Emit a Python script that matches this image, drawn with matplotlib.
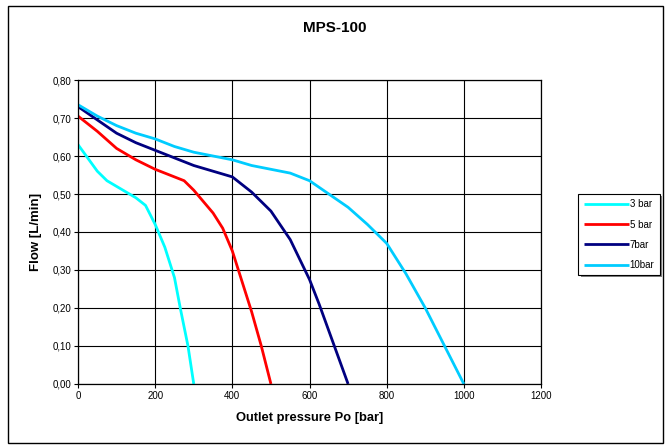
import matplotlib
matplotlib.use("Agg")
import matplotlib.pyplot as plt
import matplotlib.patheffects as pe
from matplotlib.patches import Rectangle

plt.rcParams["font.family"] = ["Liberation Sans", "DejaVu Sans"]

# ── data ─────────────────────────────────────────────────────────────────────
p3 = [0, 25, 50, 75, 100, 125, 150, 175, 200, 225, 250, 265, 285, 300]
q3 = [0.63, 0.595, 0.56, 0.535, 0.52, 0.505, 0.49, 0.47, 0.42, 0.36, 0.28, 0.20, 0.10, 0.00]

p5 = [0, 50, 100, 150, 200, 250, 275, 300, 325, 350, 375, 400, 425, 450, 475, 500]
q5 = [0.705, 0.665, 0.62, 0.59, 0.565, 0.545, 0.535, 0.51, 0.48, 0.45, 0.41, 0.35, 0.27, 0.19, 0.10, 0.00]

p7 = [0, 50, 100, 150, 200, 250, 300, 350, 400, 450, 500, 550, 600, 625, 650, 675, 700]
q7 = [0.73, 0.695, 0.66, 0.635, 0.615, 0.595, 0.575, 0.56, 0.545, 0.505, 0.455, 0.38, 0.275, 0.21, 0.14, 0.07, 0.00]

p10 = [0, 50, 100, 150, 200, 250, 300, 350, 400, 450, 500, 550, 600, 650, 700, 750, 800, 850, 900, 950, 1000]
q10 = [0.735, 0.705, 0.68, 0.66, 0.645, 0.625, 0.61, 0.60, 0.59, 0.575, 0.565, 0.555, 0.535, 0.50, 0.465, 0.42, 0.37, 0.29, 0.20, 0.10, 0.00]

series = [
    ("3 bar", p3, q3, "#00FFFF"),
    ("5 bar", p5, q5, "#FF0000"),
    ("7bar", p7, q7, "#000080"),
    ("10bar", p10, q10, "#00CCFF"),
]

xticks = [0, 200, 400, 600, 800, 1000, 1200]
yticks = [0.0, 0.1, 0.2, 0.3, 0.4, 0.5, 0.6, 0.7, 0.8]

fig = plt.figure(figsize=(6.69, 4.48), dpi=100)
fig.patches.append(Rectangle((0.012, 0.011), 0.979, 0.975, transform=fig.transFigure,
                             fill=False, edgecolor="black", linewidth=1.0))

ax = fig.add_axes([0.1166, 0.1429, 0.6921, 0.6785])
for label, x, y, col in series:
    ax.plot(x, y, color=col, lw=2.0, label=label,
            solid_joinstyle="round", solid_capstyle="butt")

ax.set_xlim(0, 1200)
ax.set_ylim(0, 0.8)
ax.set_xticks(xticks)
ax.set_yticks(yticks)
ax.set_yticklabels([f"{v:.2f}".replace(".", ",") for v in yticks])
ax.tick_params(labelsize=7, length=3, width=0.8, direction="out", pad=2)
ax.grid(True, color="black", lw=0.8)
ax.set_axisbelow(True)
for sp in ax.spines.values():
    sp.set_linewidth(0.9)

ax.set_xlabel("Outlet pressure Po [bar]", fontsize=9.3, fontweight="bold", labelpad=8)
ax.set_ylabel("Flow [L/min]", fontsize=9.5, fontweight="bold", labelpad=7)
fig.text(0.5, 0.937, "MPS-100", ha="center", va="center", fontsize=11, fontweight="bold")

# legend: fixed box at the right, thin grey drop edge like the Excel original
leg = fig.legend(loc="upper right", bbox_to_anchor=(0.986, 0.567), fontsize=7,
                 frameon=True, fancybox=False, handlelength=4.6,
                 handletextpad=0.1, borderpad=0.55, labelspacing=1.05,
                 borderaxespad=0)
frame = leg.get_frame()
frame.set_edgecolor("black")
frame.set_linewidth(0.8)
frame.set_alpha(1)
frame.set_path_effects([pe.SimplePatchShadow(offset=(1.5, -1.5), shadow_rgbFace="#808080", alpha=1),
                        pe.Normal()])

fig.savefig("out.png", dpi=100)
